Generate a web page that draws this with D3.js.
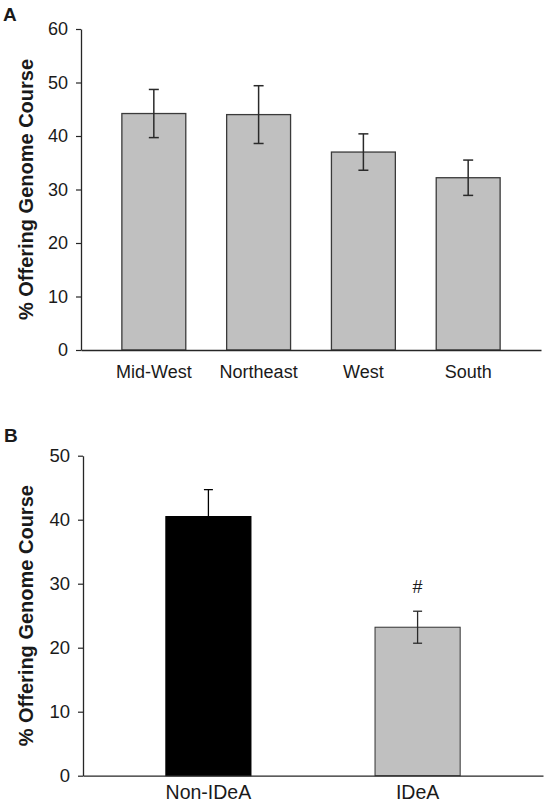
<!DOCTYPE html>
<html>
<head>
<meta charset="utf-8">
<script src="https://cdn.jsdelivr.net/npm/d3@7"></script>
<style>
  html, body { margin: 0; padding: 0; background: #fff; }
  svg { display: block; }
  text { font-family: "Liberation Sans", Arial, sans-serif; fill: #1a1a1a; }
</style>
</head>
<body>
<script>
// ---- Data ----
const regionCategories = ["Mid-West", "Northeast", "West", "South"];
const regionValues = [44.2, 44.0, 37.0, 32.2];
const regionErrors = [4.5, 5.4, 3.4, 3.3];
const regionTicks = [0, 10, 20, 30, 40, 50, 60];

const ideaCategories = ["Non-IDeA", "IDeA"];
const ideaValues = [40.5, 23.2];
const ideaErrors = [4.2, 2.5];
const ideaMarks = ["", "#"];
const ideaTicks = [0, 10, 20, 30, 40, 50];

const yTitle = "% Offering Genome Course";

const W = 550, H = 804;
const svg = d3.select("body").append("svg").attr("width", W).attr("height", H);

function panel(opts) {
  const g = svg.append("g");
  const x = d3.scaleBand().domain(opts.categories).range(opts.xRange)
    .paddingInner(opts.padInner).paddingOuter(opts.padOuter);
  const y = d3.scaleLinear().domain(opts.yDomain).range(opts.yRange);

  // y axis
  const ya = g.append("g").attr("transform", `translate(${opts.xRange[0]},0)`)
    .call(d3.axisLeft(y).tickValues(opts.ticks).tickSize(5).tickSizeOuter(0).tickPadding(8));
  ya.select(".domain").attr("stroke", "#262626").attr("stroke-width", 1.3);
  ya.selectAll(".tick line").attr("stroke", "#262626").attr("stroke-width", 1.2);
  ya.selectAll(".tick text").attr("font-size", opts.tickSize).attr("fill", "#1a1a1a")
    .style("font-family", "'Liberation Sans', Arial, sans-serif");

  // bars
  g.selectAll("rect.bar").data(opts.values).enter().append("rect")
    .attr("class", "bar")
    .attr("x", (d, i) => x(opts.categories[i]))
    .attr("width", x.bandwidth())
    .attr("y", d => y(d))
    .attr("height", d => y(0) - y(d))
    .attr("fill", (d, i) => opts.fills[i])
    .attr("stroke", (d, i) => opts.strokes[i])
    .attr("stroke-width", opts.barStroke);

  // error bars
  const eb = g.selectAll("g.err").data(opts.values).enter().append("g").attr("class", "err")
    .attr("stroke", (d, i) => opts.errColors[i]).attr("stroke-width", opts.errStroke);
  eb.append("line")
    .attr("x1", (d, i) => x(opts.categories[i]) + x.bandwidth() / 2)
    .attr("x2", (d, i) => x(opts.categories[i]) + x.bandwidth() / 2)
    .attr("y1", (d, i) => y(d - opts.errors[i]))
    .attr("y2", (d, i) => y(d + opts.errors[i]));
  [-1, 1].forEach(s => {
    eb.append("line")
      .attr("x1", (d, i) => x(opts.categories[i]) + x.bandwidth() / 2 - opts.cap / 2)
      .attr("x2", (d, i) => x(opts.categories[i]) + x.bandwidth() / 2 + opts.cap / 2)
      .attr("y1", (d, i) => y(d + s * opts.errors[i]))
      .attr("y2", (d, i) => y(d + s * opts.errors[i]));
  });

  // x axis
  const xa = g.append("g").attr("transform", `translate(0,${y(0)})`)
    .call(d3.axisBottom(x).tickSize(0).tickSizeOuter(0).tickPadding(opts.xPad));
  xa.select(".domain").attr("stroke", "#262626").attr("stroke-width", 1.3);
  xa.selectAll(".tick text").attr("font-size", opts.catSize).attr("fill", "#1a1a1a")
    .style("font-family", "'Liberation Sans', Arial, sans-serif");

  // significance marks
  if (opts.marks) {
    g.selectAll("text.mark").data(opts.values).enter().append("text")
      .attr("class", "mark")
      .attr("x", (d, i) => x(opts.categories[i]) + x.bandwidth() / 2)
      .attr("y", (d, i) => y(d + opts.errors[i]) - 18)
      .attr("text-anchor", "middle")
      .attr("font-size", 18)
      .text((d, i) => opts.marks[i]);
  }

  // y title
  const midY = (opts.yRange[0] + opts.yRange[1]) / 2;
  g.append("text")
    .attr("transform", `translate(33,${midY}) rotate(-90)`)
    .attr("text-anchor", "middle")
    .attr("font-size", 20)
    .attr("font-weight", "bold")
    .text(yTitle);

  // panel letter
  g.append("text")
    .attr("x", opts.letterX).attr("y", opts.letterY)
    .attr("font-size", 19).attr("font-weight", "bold")
    .text(opts.letter);
}

panel({
  categories: regionCategories, values: regionValues, errors: regionErrors, ticks: regionTicks,
  xRange: [81, 541], yDomain: [0, 60], yRange: [350, 29],
  padInner: 0.39, padOuter: 0.39,
  fills: ["#c0c0c0", "#c0c0c0", "#c0c0c0", "#c0c0c0"],
  strokes: ["#3a3a3a", "#3a3a3a", "#3a3a3a", "#3a3a3a"],
  errColors: ["#2a2a2a", "#2a2a2a", "#2a2a2a", "#2a2a2a"],
  barStroke: 1.3, errStroke: 1.5, cap: 10,
  tickSize: 18, catSize: 18, xPad: 15,
  letter: "A", letterX: 3, letterY: 20.7
});

panel({
  categories: ideaCategories, values: ideaValues, errors: ideaErrors, ticks: ideaTicks,
  xRange: [83, 543], yDomain: [0, 50], yRange: [775.7, 455.7],
  padInner: 0.593, padOuter: 0.396,
  fills: ["#000000", "#c0c0c0"],
  strokes: ["#000000", "#333333"],
  errColors: ["#000000", "#2a2a2a"],
  barStroke: 1, errStroke: 1.3, cap: 9,
  tickSize: 18.5, catSize: 19.5, xPad: 9.5,
  marks: ideaMarks,
  letter: "B", letterX: 4, letterY: 441.7
});
</script>
</body>
</html>
